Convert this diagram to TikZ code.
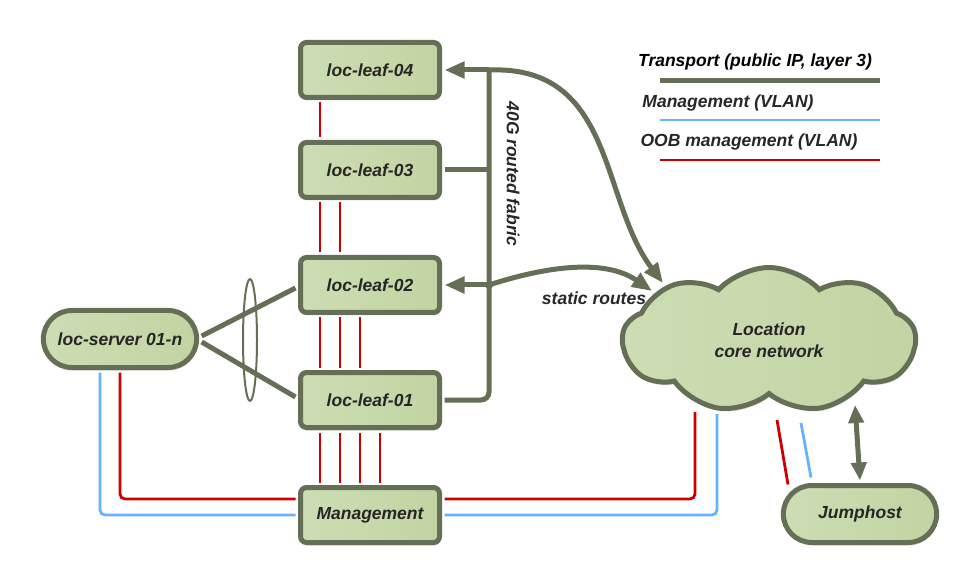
\documentclass[tikz,border=0pt]{standalone}
\usepackage{fontspec}
\setmainfont{Liberation Sans}
\usetikzlibrary{arrows.meta,shapes.misc,shapes.symbols,shadows}

\definecolor{frame}{RGB}{101,111,85}
\definecolor{fillL}{RGB}{205,221,180}
\definecolor{fillR}{RGB}{194,212,162}
\definecolor{oobred}{RGB}{204,0,0}
\definecolor{vlanblue}{RGB}{102,178,255}
\definecolor{ink}{RGB}{38,38,38}

\tikzset{
  lbl/.style={font=\fontsize{17.5}{22}\selectfont\bfseries\itshape, text=ink},
  box/.style={lbl, draw=frame, line width=5pt, rounded corners=6pt,
    left color=fillL, right color=fillR, minimum width=139pt,
    minimum height=55pt, outer sep=5pt,
    drop shadow={shadow xshift=1pt, shadow yshift=-3pt, opacity=.3}},
  pill/.style={box, rounded rectangle, sharp corners, minimum width=160pt, minimum height=57pt},
  cloudnet/.style={box, cloud, sharp corners, cloud puffs=9, cloud puff arc=95, aspect=2, align=center,
    minimum width=293pt, minimum height=145pt, outer sep=2.5pt},
  transport/.style={draw=frame, line width=5pt},
  arr/.style={-{Triangle[length=20pt,width=16pt]}},
  oob/.style={draw=oobred, line width=2.8pt},
  vlan/.style={draw=vlanblue, line width=2.8pt},
}

\begin{document}
\begin{tikzpicture}[x=1pt, y=-1pt]
    \useasboundingbox (0,0) rectangle (980,585);

    % Switches and hosts
    \node[box] (leaf04) at (370,70) {loc-leaf-04};
    \node[box] (leaf03) at (370,170) {loc-leaf-03};
    \node[box] (leaf02) at (370,285) {loc-leaf-02};
    \node[box] (leaf01) at (370,400) {loc-leaf-01};
    \node[box] (mgmt) at (370,515) {Management};
    \node[pill] (srv) at (120,339) {loc-server 01-n};
    \node[pill] (jump) at (860,514) {Jumphost};
    \node[cloudnet] (core) at (769,340) {Location\\core network};

    % Legend
    \node[lbl, text=black] (lgT) at (755,62) {Transport (public IP, layer 3)};
    \draw[transport] (660,81) -- (880,81);
    \node[lbl] (lgM) at (728,103) {Management (VLAN)};
    \draw[vlan] (660,120) -- (880,120);
    \node[lbl] (lgO) at (749,142) {OOB management (VLAN)};
    \draw[oob] (660,160) -- (880,160);

    % Routed fabric (transport)
    \coordinate (bTop) at (489,70);
    \draw[transport, rounded corners=8pt] (leaf01.east) -| (bTop);
    \draw[transport] (leaf03.east) -- (leaf03.east -| bTop);
    \draw[transport, arr] (bTop) -- (leaf04.east);
    \draw[transport, arr] (leaf02.east -| bTop) coordinate (bMid) -- (leaf02.east);
    \fill[frame] (bMid) circle (4);
    \node[lbl, rotate=-90] (fab) at (513,174) {40G routed fabric};

    % Uplinks to the core
    \coordinate (cA) at (663,283);
    \coordinate (cB) at (652,291);
    \draw[transport, arr] (bTop) .. controls (615,65) and (600,200) .. (cA);
    \draw[transport, arr] (bMid) .. controls (560,262) and (610,262) .. (cB);
    \node[lbl] (sr) at (594,298) {static routes};

    % Server bond
    \draw[frame, line width=2pt] (250,340) ellipse (7 and 61);
    \draw[transport] ([yshift=3pt]srv.east) -- ([yshift=-3pt]leaf02.west);
    \draw[transport] ([yshift=-3pt]srv.east) -- ([yshift=3pt]leaf01.west);

    % OOB links between switches
    \draw[oob] ([xshift=-50pt]leaf04.south) -- ([xshift=-50pt]leaf03.north);
    \foreach \dx in {-50,-30}
        \draw[oob] ([xshift=\dx pt]leaf03.south) -- ([xshift=\dx pt]leaf02.north);
    \foreach \dx in {-50,-30,-10}
        \draw[oob] ([xshift=\dx pt]leaf02.south) -- ([xshift=\dx pt]leaf01.north);
    \foreach \dx in {-50,-30,-10,10}
        \draw[oob] ([xshift=\dx pt]leaf01.south) -- ([xshift=\dx pt]mgmt.north);

    % Management VLANs
    \draw[oob, rounded corners=5pt] (srv.south) |- ([yshift=16pt]mgmt.west);
    \draw[vlan, rounded corners=5pt] ([xshift=-20pt]srv.south) |- (mgmt.west);
    \coordinate (oC) at (695,412);
    \coordinate (vC) at (717,414);
    \draw[oob, rounded corners=5pt] ([yshift=16pt]mgmt.east) -| (oC);
    \draw[vlan, rounded corners=5pt] (mgmt.east) -| (vC);

    % Jumphost
    \coordinate (oJ) at (777,420);
    \coordinate (vJ) at (801,423);
    \coordinate (aJ) at (855,405);
    \draw[oob] (oJ) -- ([xshift=-72pt,yshift=-4pt]jump.north);
    \draw[vlan] (vJ) -- ([xshift=-49pt,yshift=3pt]jump.north);
    \draw[transport, {Triangle[length=18pt,width=15pt]}-{Triangle[length=18pt,width=15pt]}] (aJ) -- (jump.north);
\end{tikzpicture}
\end{document}
